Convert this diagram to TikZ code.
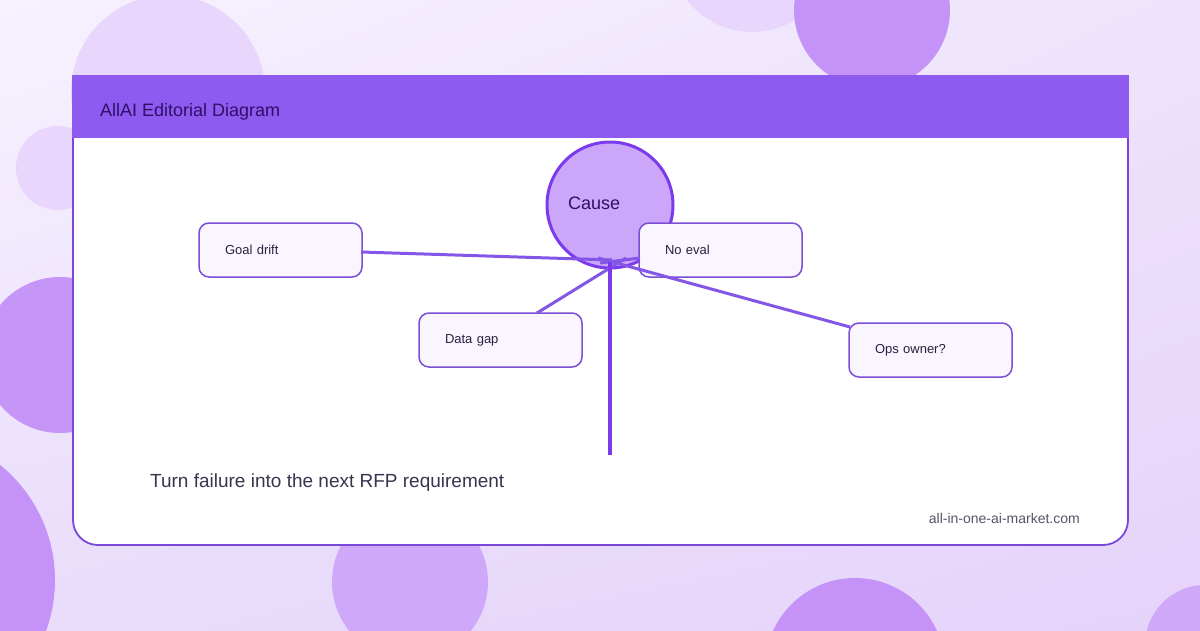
\documentclass[tikz,border=0pt]{standalone}
\usepackage{fontspec}
\setmainfont{Liberation Sans}
\usetikzlibrary{shadings}
\begin{document}
\begin{tikzpicture}[x=1pt,y=-1pt,
  bx/.style={draw=boxline,line width=1.5pt,fill=boxfill,rounded corners=10pt,
    minimum width=163pt,minimum height=54pt,text width=111pt,inner xsep=26pt,
    align=left,font=\fontsize{13}{15}\selectfont,text=textdark},
  conn/.style={draw=connline,line width=3pt}]
\definecolor{bgA}{HTML}{F7F2FE}
\definecolor{bgB}{HTML}{EEE3FC}
\definecolor{bgC}{HTML}{E9DCFB}
\definecolor{bgD}{HTML}{E5D3FA}
\definecolor{cLight}{HTML}{E8D6FC}
\definecolor{cMid}{HTML}{D0A8FA}
\definecolor{cDark}{HTML}{C593F8}
\definecolor{header}{HTML}{8F5AF0}
\definecolor{cardline}{HTML}{7A48D8}
\definecolor{boxline}{HTML}{7B4FD6}
\definecolor{boxfill}{HTML}{FAF6FF}
\definecolor{textdark}{HTML}{2A1F3D}
\definecolor{titletext}{HTML}{2E1065}
\definecolor{causefill}{HTML}{CCA6F9}
\definecolor{causeline}{HTML}{7C3AED}
\definecolor{connline}{HTML}{8456E8}
\definecolor{foot}{HTML}{3B3350}
\useasboundingbox (0,0) rectangle (1200,630);
\shade[upper left=bgA,upper right=bgB,lower left=bgC,lower right=bgD] (0,0) rectangle (1200,630);
\begin{scope}
\clip (0,0) rectangle (1200,630);
\fill[cLight] (168,92) circle[radius=97pt];
\fill[cLight] (58,168) circle[radius=42pt];
\fill[cLight] (752,-50) circle[radius=82pt];
\fill[cDark] (872,10) circle[radius=78pt];
\fill[cDark!90!cMid] (60,355) circle[radius=78pt];
\fill[cDark] (-93,580) circle[radius=148pt];
\fill[cMid] (410,582) circle[radius=78pt];
\fill[cDark] (855,668) circle[radius=90pt];
\fill[cMid] (1205,645) circle[radius=60pt];
\end{scope}
% card
\draw[cardline,line width=1.8pt,fill=white,rounded corners=25pt] (73,76) rectangle (1128,545);
\fill[header] (72.1,75.1) rectangle (1128.9,138);
\node[anchor=west,font=\fontsize{18}{20}\selectfont,text=titletext,inner sep=0pt] (title) at (100,112) {AllAI Editorial Diagram};
% cause
\node[circle,draw=causeline,line width=3pt,fill=causefill,minimum size=126pt,inner sep=0pt] (cause) at (610,205) {};
\node[anchor=west,font=\fontsize{18}{20}\selectfont,text=titletext,inner sep=0pt] (causetext) at (568,203) {Cause};
% boxes
\node[bx] (goal) at (280.5,250) {Goal drift};
\node[bx] (noeval) at (720.5,250) {No eval};
\node[bx] (data) at (500.5,340) {Data gap};
\node[bx] (ops) at (930.5,350) {Ops owner?};
% hub coordinates
\coordinate (hub) at (610,262);
\coordinate (hubstem) at (610,455);
\coordinate (hgoal) at (612,260);
\coordinate (hdata) at (626,258);
\coordinate (hops) at (598,258);
\coordinate (hno) at (600,263);
\coordinate (goalend) at (361,252);
\coordinate (dataend) at (537,313);
\coordinate (opsend) at (850,327);
\coordinate (noend) at (640,258);
\draw[conn] (goalend) -- (hgoal);
\draw[conn] (dataend) -- (hdata);
\draw[conn] (opsend) -- (hops);
\draw[conn] (noend) -- (hno);
\draw[causeline,line width=4.5pt] (hub) -- (hubstem);
% footer
\node[anchor=west,font=\fontsize{19}{21}\selectfont,text=foot,inner sep=0pt] (tagline) at (150,483) {Turn failure into the next RFP requirement};
\node[anchor=east,font=\fontsize{14}{16}\selectfont,text=foot!85!white,inner sep=0pt] (site) at (1080,518) {all-in-one-ai-market.com};
\end{tikzpicture}
\end{document}
